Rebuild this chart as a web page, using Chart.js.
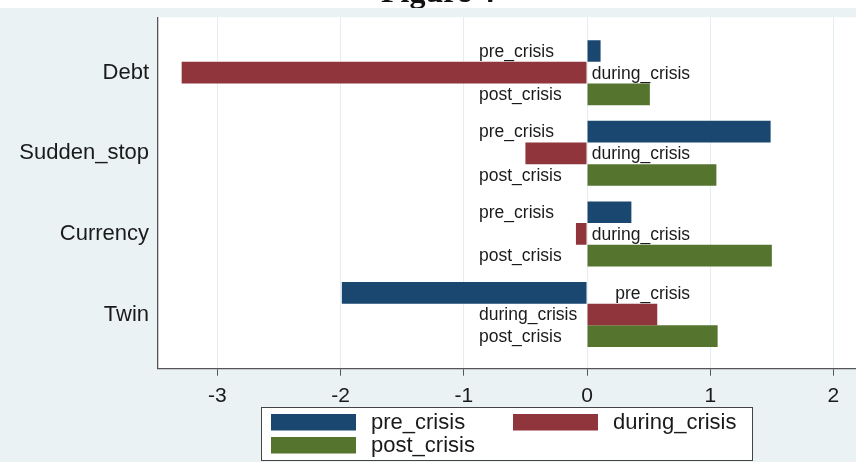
<!DOCTYPE html>
<html>
<head>
<meta charset="utf-8">
<script src="https://cdn.jsdelivr.net/npm/chart.js@4"></script>
<style>
  body { margin: 0; background: #eaf2f3; }
  canvas { display: block; }
</style>
</head>
<body>
<canvas id="crisisChart" width="856" height="462"></canvas>
<script>
const categories = ['Debt', 'Sudden_stop', 'Currency', 'Twin'];
const seriesNames = ['pre_crisis', 'during_crisis', 'post_crisis'];
const preCrisis = [0.11, 1.49, 0.36, -1.99];
const duringCrisis = [-3.29, -0.50, -0.09, 0.57];
const postCrisis = [0.51, 1.05, 1.50, 1.06];
const xTicks = [-3, -2, -1, 0, 1, 2];

const seriesColors = ['#1a476f', '#90353b', '#55752f'];
const font = '"Liberation Sans", Arial, sans-serif';

// page background, white plot region, cut-off title
const backgroundPlugin = {
    id: 'background',
    beforeDraw(chart) {
        const ctx = chart.ctx;
        const area = chart.chartArea;
        ctx.save();
        ctx.fillStyle = '#ffffff';
        ctx.fillRect(0, 0, chart.width, 8);
        ctx.fillStyle = '#111';
        ctx.font = 'bold 32px "Liberation Serif", "Times New Roman", serif';
        ctx.textAlign = 'center';
        ctx.textBaseline = 'alphabetic';
        ctx.fillText('Figure 4', 438, 2);
        ctx.fillStyle = '#eaf2f3';
        ctx.fillRect(0, 8, chart.width, chart.height - 8);
        ctx.fillStyle = '#ffffff';
        ctx.fillRect(area.left, area.top, area.right - area.left, area.bottom - area.top);
        ctx.restore();
    }
};

// bar labels: left of zero for positive bars, right of zero for negative ones
const barLabelPlugin = {
    id: 'barLabels',
    afterDatasetsDraw(chart) {
        const ctx = chart.ctx;
        const zero = chart.scales.x.getPixelForValue(0);
        ctx.save();
        ctx.font = '17.5px ' + font;
        ctx.fillStyle = '#1a1a1a';
        ctx.textBaseline = 'middle';
        chart.data.datasets.forEach((ds, i) => {
            chart.getDatasetMeta(i).data.forEach((bar, j) => {
                const v = ds.data[j].x;
                if (v >= 0) {
                    ctx.textAlign = 'left';
                    ctx.fillText(ds.label, zero - 108, bar.y + 1);
                } else {
                    ctx.textAlign = 'right';
                    ctx.fillText(ds.label, zero + 103, bar.y + 1);
                }
            });
        });
        ctx.restore();
    }
};

// boxed legend in two columns, under the x axis
const boxLegendPlugin = {
    id: 'boxLegend',
    afterDraw(chart) {
        const ctx = chart.ctx;
        const left = 261, top = 407, w = 491, h = 53;
        ctx.save();
        ctx.fillStyle = '#ffffff';
        ctx.fillRect(left, top, w, h);
        ctx.strokeStyle = '#444';
        ctx.lineWidth = 1;
        ctx.strokeRect(left + 0.5, top + 0.5, w, h);
        ctx.font = '22px ' + font;
        ctx.textBaseline = 'middle';
        ctx.textAlign = 'left';
        const slots = [[left + 10, top + 7], [left + 252, top + 7], [left + 10, top + 30]];
        chart.data.datasets.forEach((ds, i) => {
            const [sx, sy] = slots[i];
            ctx.fillStyle = ds.backgroundColor;
            ctx.fillRect(sx, sy, 85, 16.5);
            ctx.fillStyle = '#1a1a1a';
            ctx.fillText(ds.label, sx + 100, sy + 9);
        });
        ctx.restore();
    }
};

const seriesValues = [preCrisis, duringCrisis, postCrisis];

new Chart(document.getElementById('crisisChart'), {
    type: 'bar',
    data: {
        datasets: seriesNames.map((name, i) => ({
            label: name,
            data: categories.map((c, j) => ({ x: seriesValues[i][j], y: j + 1 })),
            backgroundColor: seriesColors[i],
            borderWidth: 0,
            categoryPercentage: 0.806,
            barPercentage: 1
        }))
    },
    options: {
        indexAxis: 'y',
        responsive: false,
        animation: false,
        devicePixelRatio: 1,
        layout: { padding: { top: 17.3, left: 0, right: 0, bottom: 0 } },
        plugins: {
            legend: { display: false },
            tooltip: { enabled: false }
        },
        scales: {
            x: {
                type: 'linear',
                min: -3.482,
                max: 2.183,
                afterBuildTicks: (scale) => { scale.ticks = xTicks.map(v => ({ value: v })); },
                afterFit: (scale) => {
                    scale.height = 93.3;
                    scale.paddingLeft = 0;
                    scale.paddingRight = 0;
                },
                grid: { color: '#e4edf0', lineWidth: 1, tickColor: '#555', tickLength: 7 },
                border: { color: '#555', width: 1.3 },
                ticks: {
                    font: { family: font, size: 21 },
                    color: '#1a1a1a',
                    padding: 8,
                    maxRotation: 0,
                    callback: (v) => String(v)
                }
            },
            y: {
                type: 'linear',
                reverse: true,
                offset: false,
                min: 0.313,
                max: 4.672,
                afterBuildTicks: (scale) => { scale.ticks = categories.map((c, i) => ({ value: i + 1 })); },
                afterFit: (scale) => {
                    scale.width = 158;
                    scale.paddingTop = 0;
                    scale.paddingBottom = 0;
                },
                grid: { display: false, drawTicks: false, offset: false },
                border: { color: '#555', width: 1.3 },
                ticks: {
                    font: { family: font, size: 22 },
                    color: '#1a1a1a',
                    padding: 9,
                    callback: (v) => categories[v - 1]
                }
            }
        }
    },
    plugins: [backgroundPlugin, barLabelPlugin, boxLegendPlugin]
});
</script>
</body>
</html>
